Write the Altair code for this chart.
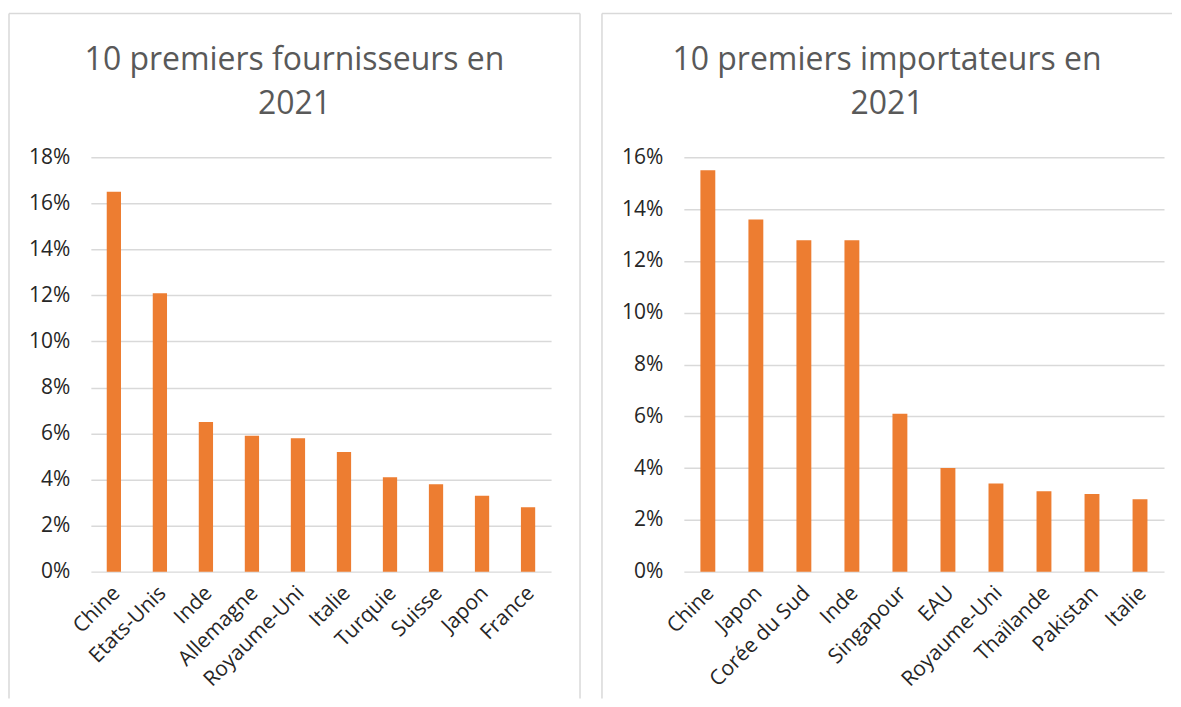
import altair as alt
import pandas as pd

# ---- data ----
sup_countries = ["Chine", "Etats-Unis", "Inde", "Allemagne", "Royaume-Uni",
                 "Italie", "Turquie", "Suisse", "Japon", "France"]
sup_shares = [0.165, 0.121, 0.065, 0.059, 0.058, 0.052, 0.041, 0.038, 0.033, 0.028]
sup_ticks = [0, 0.02, 0.04, 0.06, 0.08, 0.10, 0.12, 0.14, 0.16, 0.18]
sup_title = ["10 premiers fournisseurs en", "2021"]

imp_countries = ["Chine", "Japon", "Corée du Sud", "Inde", "Singapour",
                 "EAU", "Royaume-Uni", "Thaïlande", "Pakistan", "Italie"]
imp_shares = [0.155, 0.136, 0.128, 0.128, 0.061, 0.040, 0.034, 0.031, 0.030, 0.028]
imp_ticks = [0, 0.02, 0.04, 0.06, 0.08, 0.10, 0.12, 0.14, 0.16]
imp_title = ["10 premiers importateurs en", "2021"]

# ---- styles ----
FONT = "Open Sans"
BAR = "#ED7D31"
GRID = "#D9D9D9"
FRAME = "#D9D9D9"
LABEL = "#262626"
TITLE = "#595959"
PLOT_H = 415


def panel(countries, shares, ticks, title, width, right_edge, draw_right):
    df = pd.DataFrame({"pays": countries, "part": shares})
    bars = alt.Chart(df).mark_bar(color=BAR).encode(
        x=alt.X(
            "pays:N", sort=None, title=None,
            scale=alt.Scale(paddingInner=0.69, paddingOuter=0.345),
            axis=alt.Axis(labelAngle=-45, labelAlign="right", labelBaseline="middle",
                          labelPadding=18, labelOffset=3, ticks=False, domain=False,
                          grid=False, labelFont=FONT, labelFontSize=21,
                          labelColor=LABEL, labelOverlap=False),
        ),
        y=alt.Y(
            "part:Q", title=None,
            scale=alt.Scale(domain=[0, ticks[-1]], nice=False, zero=True),
            axis=alt.Axis(values=ticks, format=".0%", grid=True, gridColor=GRID,
                          gridWidth=1.5, domain=False, ticks=False, labelPadding=21,
                          labelFont=FONT, labelFontSize=21, labelColor=LABEL),
        ),
    )
    one = alt.Data(values=[{"k": 0}])
    layers = [
        alt.Chart(one).mark_rule(color=FRAME, strokeWidth=1.5).encode(
            x=alt.value(-82), x2=alt.value(right_edge), y=alt.value(-144)),
        alt.Chart(one).mark_rule(color=FRAME, strokeWidth=1.5).encode(
            x=alt.value(-82), y=alt.value(-144), y2=alt.value(542)),
    ]
    if draw_right:
        layers.append(
            alt.Chart(one).mark_rule(color=FRAME, strokeWidth=1.5).encode(
                x=alt.value(right_edge), y=alt.value(-144), y2=alt.value(542)))
    layers.append(bars)
    return alt.layer(*layers).properties(
        width=width, height=PLOT_H,
        title=alt.TitleParams(text=title, font=FONT, fontSize=32, fontWeight="normal",
                              color=TITLE, anchor="middle", frame="bounds",
                              lineHeight=44, offset=0, dy=108),
    )


left = panel(sup_countries, sup_shares, sup_ticks, sup_title, 461, 490, True)
right = panel(imp_countries, imp_shares, imp_ticks, imp_title, 481, 489, False)

chart = alt.hconcat(left, right, spacing=20).configure(
    padding={"left": 0, "top": 4, "right": 0, "bottom": 0},
    background="white",
).configure_view(strokeWidth=0)

chart.save("out.html", embed_options={"renderer": "svg", "actions": False})
